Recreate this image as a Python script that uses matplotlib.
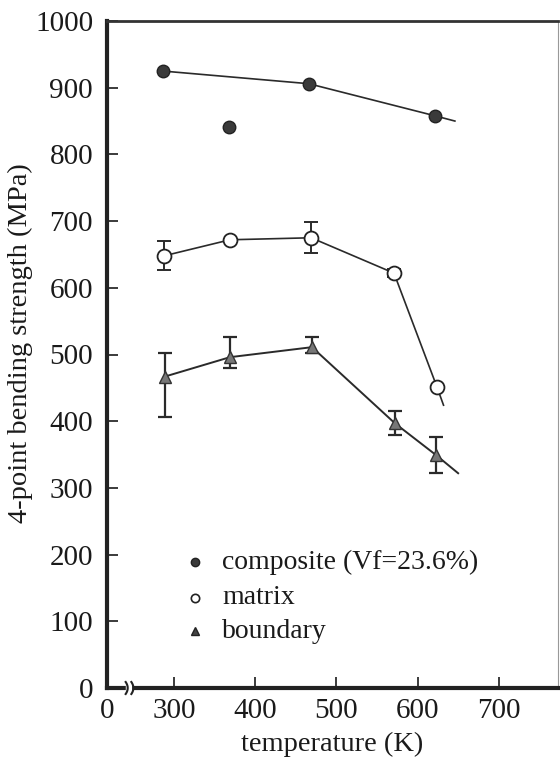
import numpy as np
import matplotlib
matplotlib.use("Agg")
import matplotlib.pyplot as plt
import matplotlib.transforms as mtransforms

plt.rcParams['font.family'] = ['Liberation Serif', 'DejaVu Serif']

# ---- data ----
comp_T = [286, 368, 466, 621]
comp_v = [925, 841, 906, 858]
comp_line_T = [286, 466, 621, 646]
comp_line_v = [925, 906, 858, 850]

mat_T = [288, 369, 469, 571, 624]
mat_v = [648, 672, 675, 622, 451]
mat_err = [22, 0, 23, 6, 0]
mat_line_T = [288, 369, 469, 571, 624, 632]
mat_line_v = [648, 672, 675, 622, 451, 424]

bnd_T = [289, 369, 470, 572, 623]
bnd_v = [467, 496, 511, 397, 349]
bnd_err_lo = [60, 16, 9, 18, 27]
bnd_err_hi = [35, 30, 15, 18, 27]
bnd_line_T = [289, 369, 470, 572, 623, 650]
bnd_line_v = [467, 496, 511, 397, 349, 322]

x_ticks = [300, 400, 500, 600, 700]
y_ticks = [0, 100, 200, 300, 400, 500, 600, 700, 800, 900, 1000]
x_min, x_max = 217.5, 773

legend_labels = ['composite (Vf=23.6%)', 'matrix', 'boundary']

# ---- figure ----
fig = plt.figure(figsize=(5.6, 7.61), dpi=100)
ax = fig.add_axes([107/560, 1-688/761, (558-107)/560, (688-21)/761])

line_col = '#2a2a2a'
ax.plot(comp_line_T, comp_line_v, color=line_col, lw=1.2, zorder=2)
ax.plot(mat_line_T, mat_line_v, color=line_col, lw=1.2, zorder=2)
ax.plot(bnd_line_T, bnd_line_v, color=line_col, lw=1.4, zorder=2)

ax.errorbar(mat_T, mat_v, yerr=mat_err, fmt='none', ecolor=line_col,
            elinewidth=1.4, capsize=5, capthick=1.4, zorder=3)
ax.errorbar(bnd_T, bnd_v, yerr=[bnd_err_lo, bnd_err_hi], fmt='none',
            ecolor=line_col, elinewidth=1.6, capsize=5, capthick=1.6, zorder=3)

ax.plot(comp_T, comp_v, 'o', ms=9, mfc='#3a3a3a', mec='#222222', mew=1, ls='none', zorder=4)
ax.plot(mat_T, mat_v, 'o', ms=10, mfc='white', mec='#222222', mew=1.3, ls='none', zorder=4)
ax.plot(bnd_T, bnd_v, '^', ms=9, mfc='#777777', mec='#333333', mew=1, ls='none', zorder=4)

# legend drawn as markers + texts
lx_m, lx_t = 326, 359
ly = [189, 135, 85]
ax.plot([lx_m], [ly[0]], 'o', ms=6, mfc='#3a3a3a', mec='#222222', ls='none')
ax.plot([lx_m], [ly[1]], 'o', ms=6, mfc='white', mec='#222222', mew=1.2, ls='none')
ax.plot([lx_m], [ly[2]], '^', ms=6, mfc='#444444', mec='#222222', ls='none')
for y, lab in zip(ly, legend_labels):
    ax.text(lx_t, y, lab, fontsize=20, va='center', ha='left', color='#1a1a1a')

ax.set_xlim(x_min, x_max)
ax.set_ylim(0, 1000)
ax.set_xticks([x_min] + x_ticks)
ax.set_xticklabels(['0'] + [str(t) for t in x_ticks])
ax.set_yticks(y_ticks)
ax.set_yticklabels([str(t) for t in y_ticks])
ax.tick_params(axis='both', direction='in', length=8, width=1.2,
               labelsize=21, colors='#1a1a1a')
ax.tick_params(axis='y', pad=10)
ax.tick_params(axis='x', pad=7)
xt = ax.xaxis.get_major_ticks()
xt[0].tick1line.set_visible(False)

for s in ['left', 'bottom']:
    ax.spines[s].set_linewidth(3)
    ax.spines[s].set_color('#222222')
ax.spines['top'].set_linewidth(2)
ax.spines['top'].set_color('#333333')
ax.spines['right'].set_linewidth(0.8)
ax.spines['right'].set_color('#999999')

ax.set_xlabel('temperature (K)', fontsize=20.5, labelpad=6, color='#1a1a1a')
ax.set_ylabel('4-point bending strength (MPa)', fontsize=20.5, color='#1a1a1a')
ax.yaxis.set_label_coords(-0.163, 0.517)

# axis break on x axis
trans = mtransforms.blended_transform_factory(ax.transData, ax.transAxes)
ax.fill_between([241, 247], [-0.01, -0.01], [0.01, 0.01], color='white',
                transform=trans, clip_on=False, zorder=5)
t = np.linspace(-1, 1, 20)
for xc in [240.5, 247.5]:
    ax.plot(xc + 2.5 * (1 - t**2), 0.009 * t, color='#222222', lw=1.5,
            transform=trans, clip_on=False, zorder=6)

fig.savefig('out.png', dpi=100)
